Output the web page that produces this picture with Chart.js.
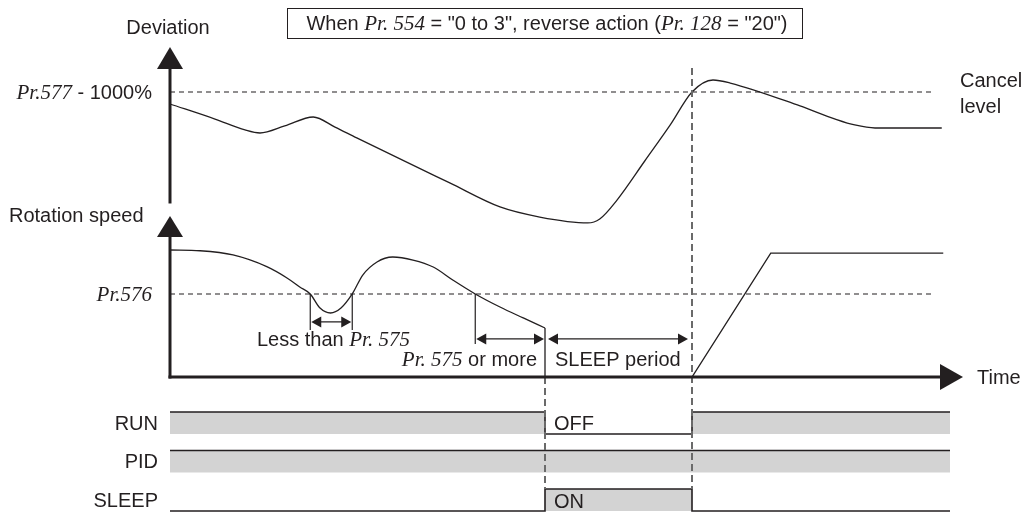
<!DOCTYPE html>
<html>
<head>
<meta charset="utf-8">
<script src="https://cdn.jsdelivr.net/npm/chart.js@4/dist/chart.umd.min.js"></script>
<style>
	html, body { margin: 0; padding: 0; background: #fff; }
	canvas { display: block; }
</style>
</head>
<body>
<canvas id="myChart" width="1023" height="512"></canvas>
<script>
// time in arbitrary units, SLEEP starts at 50
const devTimes = [0, 6, 10, 12, 15.3, 19.1, 22, 24.9, 37.3, 44, 49.3, 55.7, 57.3, 59.6, 63.3, 66.7, 69.6, 72.4, 74.7, 84, 88.7, 91.3, 94, 102.9]
const devValues = [91.3, 80.4, 72.5, 70.3, 75.4, 81.9, 74.6, 66.7, 34.1, 16.7, 9.4, 5.1, 8, 21.7, 50, 76.1, 100, 108.7, 106.5, 89.9, 80.4, 76.1, 73.9, 73.9]

const speedTimes = [0, 4, 8.4, 12.9, 15.6, 17.3, 18.7, 20, 21.4, 22.8, 24.3, 25.7, 27.6, 29.7, 32.4, 35.1, 37.7, 40.7, 44, 47.1, 50]
const speedValues = [100, 99.4, 96.1, 86.9, 78, 70.9, 65.4, 54.3, 50.4, 54.3, 65.4, 80.3, 90.6, 94.5, 92.1, 86.6, 76.4, 65.4, 55.1, 46.5, 38.6]
const restartTimes = [50, 50, 69.6, 80.1, 103.1]
const restartValues = [38.6, 0, 0, 97.6, 97.6]

const cancelLevel = 100   // Pr.577 - 1000%
const sleepLevel = 65.4   // Pr.576
const levelLineEnd = 102
const sleepStart = 50
const sleepEnd = 69.6
const lessThanSpan = [18.7, 24.3]
const orMoreSpan = [40.7, 50]

const signalNames = ['RUN', 'PID', 'SLEEP']
const signalTimes = [0, 50, 69.6, 104]
const runLevels = [1, 0, 1, 1]
const pidLevels = [1, 1, 1, 1]
const sleepLevels = [0, 1, 0, 0]
const signalLevels = [runLevels, pidLevels, sleepLevels]

const inkColor = '#231f20'
const bandColor = '#d3d3d3'
const guideColor = '#6a6a6a'
const sans = '20px "Liberation Sans", Arial, sans-serif'
const ital = 'italic 21px "Liberation Serif", "Times New Roman", serif'

const W = 1023
const H = 512
const rowHigh = 22 / 38.5

// value v0 sits on pixel p0, v1 on p1: whole canvas is the chart area
function xRange(v0, p0, v1, p1) {
	var k = (p1 - p0) / (v1 - v0)
	return { min: v0 - p0 / k, max: v0 + (W - p0) / k }
}
function yRange(v0, p0, v1, p1) {
	var k = (p0 - p1) / (v1 - v0)
	return { min: v0 - (H - p0) / k, max: v0 + p0 / k }
}

function pts(ts, vs) {
	return ts.map(function(t, i) { return { x: t, y: vs[i] } })
}

function curve(label, data, axis, smooth) {
	return {
		label: label, data: data, yAxisID: axis,
		borderColor: inkColor, borderWidth: 1.3,
		tension: smooth ? 0.4 : 0,
		cubicInterpolationMode: smooth ? 'monotone' : 'default',
		pointRadius: 0, fill: false,
	}
}

function levelLine(label, value, axis) {
	return {
		label: label, data: [{ x: 0, y: value }, { x: levelLineEnd, y: value }], yAxisID: axis,
		borderColor: inkColor, borderWidth: 1.1, borderDash: [5, 4],
		pointRadius: 0, fill: false,
	}
}

var datasets = [
	curve('Deviation', pts(devTimes, devValues), 'yDev', true),
	levelLine('Cancel level', cancelLevel, 'yDev'),
	curve('Rotation speed', pts(speedTimes, speedValues), 'ySpd', true),
	curve('Restart', pts(restartTimes, restartValues), 'ySpd', false),
	levelLine('Pr.576', sleepLevel, 'ySpd'),
]
signalNames.forEach(function(name, r) {
	datasets.push({
		label: name,
		data: signalTimes.map(function(t, i) { return { x: t, y: -r + signalLevels[r][i] * rowHigh } }),
		yAxisID: 'ySig',
		stepped: true,
		fill: { value: -r },
		backgroundColor: bandColor,
		borderColor: inkColor,
		borderWidth: 1.6,
		pointRadius: 0,
	})
})

function drawParts(ctx, parts, x, y, align) {
	var total = 0
	parts.forEach(function(p) { ctx.font = p[1]; total += ctx.measureText(p[0]).width })
	var cx = align === 'right' ? x - total : align === 'center' ? x - total / 2 : x
	ctx.textAlign = 'left'
	ctx.textBaseline = 'middle'
	parts.forEach(function(p) {
		ctx.font = p[1]
		ctx.fillText(p[0], cx, y)
		cx += ctx.measureText(p[0]).width
	})
}

function line(ctx, x1, y1, x2, y2) {
	ctx.beginPath()
	ctx.moveTo(x1, y1)
	ctx.lineTo(x2, y2)
	ctx.stroke()
}

function tri(ctx, a, b, c) {
	ctx.beginPath()
	ctx.moveTo(a[0], a[1])
	ctx.lineTo(b[0], b[1])
	ctx.lineTo(c[0], c[1])
	ctx.closePath()
	ctx.fill()
}

function doubleArrow(ctx, x1, x2, y) {
	line(ctx, x1 + 4, y, x2 - 4, y)
	tri(ctx, [x1 + 1, y], [x1 + 11, y - 5.5], [x1 + 11, y + 5.5])
	tri(ctx, [x2 - 1, y], [x2 - 11, y - 5.5], [x2 - 11, y + 5.5])
}

var framePlugin = {
	id: 'frame',
	afterDatasetsDraw: function(chart) {
		var ctx = chart.ctx
		var xs = chart.scales.x, yd = chart.scales.yDev, ysp = chart.scales.ySpd, ysg = chart.scales.ySig
		var x0 = xs.getPixelForValue(0)
		ctx.save()

		// guide lines at start and end of SLEEP
		var sigTop = ysg.getPixelForValue(-2 + rowHigh)
		ctx.strokeStyle = guideColor
		ctx.lineWidth = 2
		ctx.setLineDash([7, 4])
		line(ctx, xs.getPixelForValue(sleepEnd), 68, xs.getPixelForValue(sleepEnd), sigTop)
		line(ctx, xs.getPixelForValue(sleepStart), ysp.getPixelForValue(0), xs.getPixelForValue(sleepStart), sigTop)
		ctx.setLineDash([])

		// axes
		ctx.strokeStyle = inkColor
		ctx.fillStyle = inkColor
		ctx.lineWidth = 3
		ctx.lineCap = 'square'
		line(ctx, x0, yd.getPixelForValue(20.3), x0, 70)
		tri(ctx, [x0, 47], [x0 - 13, 69], [x0 + 13, 69])
		var y0 = ysp.getPixelForValue(0)
		line(ctx, x0, y0, x0, 238)
		tri(ctx, [x0, 216], [x0 - 13, 237], [x0 + 13, 237])
		line(ctx, x0, y0, 941, y0)
		tri(ctx, [963, y0], [940, y0 - 13], [940, y0 + 13])
		ctx.lineCap = 'butt'

		// brackets under Pr.576
		var yl = ysp.getPixelForValue(sleepLevel)
		ctx.lineWidth = 1.2
		var a = xs.getPixelForValue(lessThanSpan[0]), b = xs.getPixelForValue(lessThanSpan[1])
		line(ctx, a, yl, a, yl + 36)
		line(ctx, b, yl, b, yl + 36)
		doubleArrow(ctx, a, b, yl + 28)
		var c = xs.getPixelForValue(orMoreSpan[0]), d = xs.getPixelForValue(orMoreSpan[1])
		line(ctx, c, yl, c, yl + 50)
		doubleArrow(ctx, c, d, yl + 45)
		doubleArrow(ctx, xs.getPixelForValue(sleepStart) + 2, xs.getPixelForValue(sleepEnd) - 3, yl + 45)

		// title box
		ctx.lineWidth = 1
		ctx.strokeRect(287.5, 8.5, 515, 30)

		// texts
		drawParts(ctx, [['When ', sans], ['Pr. 554', ital], [' = "0 to 3", reverse action (', sans], ['Pr. 128', ital], [' = "20")', sans]], 547, 24, 'center')
		drawParts(ctx, [['Deviation', sans]], 168, 28, 'center')
		drawParts(ctx, [['Pr.577', ital], [' - 1000%', sans]], 152, yd.getPixelForValue(cancelLevel) + 1, 'right')
		drawParts(ctx, [['Cancel', sans]], 960, 81, 'left')
		drawParts(ctx, [['level', sans]], 960, 107, 'left')
		drawParts(ctx, [['Rotation speed', sans]], 9, 216, 'left')
		drawParts(ctx, [['Pr.576', ital]], 152, yl + 2, 'right')
		drawParts(ctx, [['Less than ', sans], ['Pr. 575', ital]], 257, yl + 47, 'left')
		drawParts(ctx, [['Pr. 575', ital], [' or more', sans]], 537, yl + 67, 'right')
		drawParts(ctx, [['SLEEP period', sans]], 555, yl + 67, 'left')
		drawParts(ctx, [['Time', sans]], 977, y0 + 1, 'left')
		signalNames.forEach(function(name, r) {
			drawParts(ctx, [[name, sans]], 158, ysg.getPixelForValue(-r + rowHigh / 2) + 1, 'right')
		})
		drawParts(ctx, [['OFF', sans]], 554, ysg.getPixelForValue(rowHigh / 2) + 1, 'left')
		drawParts(ctx, [['ON', sans]], 554, ysg.getPixelForValue(-2 + rowHigh / 2) + 2, 'left')
		ctx.restore()
	}
}

var ctx = document.getElementById('myChart')
var chart = new Chart(ctx, {
	type: 'line',
	data: { datasets: datasets },
	options: {
		responsive: false,
		animation: false,
		devicePixelRatio: 1,
		events: [],
		layout: { padding: 0 },
		plugins: { legend: { display: false }, tooltip: { enabled: false } },
		scales: {
			x: Object.assign({ type: 'linear', display: false }, xRange(0, 170, 100, 920)),
			yDev: Object.assign({ type: 'linear', display: false }, yRange(0, 230, 100, 92)),
			ySpd: Object.assign({ type: 'linear', display: false }, yRange(0, 377, 100, 250)),
			ySig: Object.assign({ type: 'linear', display: false }, yRange(0, 434, 1, 395.5)),
		}
	},
	plugins: [framePlugin]
})
</script>
</body>
</html>
